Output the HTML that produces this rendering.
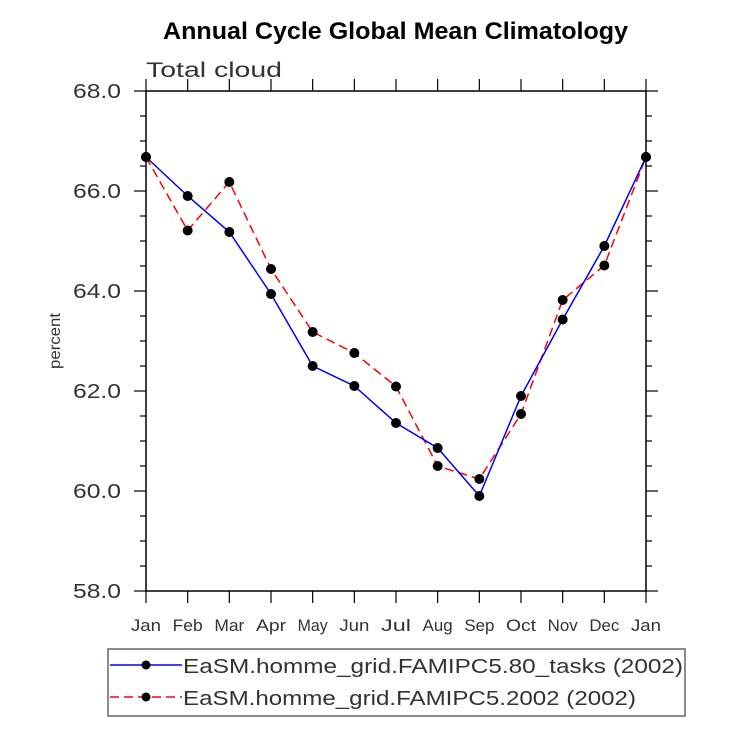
<!DOCTYPE html>
<html><head><meta charset="utf-8"><style>
body{margin:0;background:#fff;}
svg{display:block;font-family:"Liberation Sans",sans-serif;}
</style></head><body>
<svg id="chart" width="733" height="737">
<text x="163" y="39" textLength="465" lengthAdjust="spacingAndGlyphs" font-size="24" font-weight="bold">Annual Cycle Global Mean Climatology</text>
<text x="146" y="77" textLength="136" lengthAdjust="spacingAndGlyphs" font-size="21" fill="#333">Total cloud</text>
<text transform="translate(60,341) rotate(-90)" text-anchor="middle" textLength="56" lengthAdjust="spacingAndGlyphs" font-size="16" fill="#333">percent</text>
<g id="axes"></g>
<g id="series"></g>
<g id="legend">
<rect x="108" y="649" width="577" height="67" fill="none" stroke="#666" stroke-width="1.5"/>
<g>
<line x1="110" y1="665" x2="182" y2="665" stroke="#0000ff" stroke-width="1.5"/>
<circle cx="146" cy="665" r="4.5" fill="#000"/>
<text x="183" y="673" textLength="500" lengthAdjust="spacingAndGlyphs" font-size="20" fill="#333">EaSM.homme_grid.FAMIPC5.80_tasks (2002)</text>
</g>
<g>
<line x1="110" y1="697" x2="182" y2="697" stroke="#ff0000" stroke-width="1.5" stroke-dasharray="9,5"/>
<circle cx="146" cy="697" r="4.5" fill="#000"/>
<text x="183" y="705" textLength="453" lengthAdjust="spacingAndGlyphs" font-size="20" fill="#333">EaSM.homme_grid.FAMIPC5.2002 (2002)</text>
</g>
</g>
</svg>
<script>
const months=["Jan","Feb","Mar","Apr","May","Jun","Jul","Aug","Sep","Oct","Nov","Dec","Jan"];
const blueValues=[66.68,65.9,65.18,63.94,62.5,62.1,61.36,60.86,59.9,61.9,63.43,64.9,66.68];
const redValues=[66.68,65.21,66.18,64.44,63.18,62.76,62.09,60.5,60.24,61.54,63.82,64.51,66.68];
const yTicks=[58,60,62,64,66,68];
const NS="http://www.w3.org/2000/svg";
const X0=146,X1=646,Y0=591,Y1=91,YMIN=58,YMAX=68;
function xs(i){return X0+(X1-X0)*i/(months.length-1);}
function ys(v){return Y0-(v-YMIN)/(YMAX-YMIN)*(Y0-Y1);}
function mk(tag,attrs,parent){const e=document.createElementNS(NS,tag);for(const k in attrs)e.setAttribute(k,attrs[k]);parent.appendChild(e);return e;}
const axes=document.getElementById('axes');
const frame=mk('rect',{x:X0,y:Y1,width:X1-X0,height:Y0-Y1,fill:'none',stroke:'#000','stroke-width':1.5},axes);


for(let v=YMIN;v<=YMAX+1e-9;v+=0.5){
  const major=Math.abs(v-Math.round(v/2)*2)<1e-6;const len=major?12:6;const y=ys(v);
  const t1=mk('line',{x1:X0-len,y1:y,x2:X0,y2:y,stroke:'#000','stroke-width':1.2},axes);
  
  
  const t2=mk('line',{x1:X1,y1:y,x2:X1+len,y2:y,stroke:'#000','stroke-width':1.2},axes);
  
  
}
yTicks.forEach(v=>{
  const t=mk('text',{x:73,y:ys(v)+7,textLength:48,lengthAdjust:'spacingAndGlyphs','font-size':20,fill:'#333'},axes);
  t.textContent=v.toFixed(1);
  
  
});
months.forEach((m,i)=>{
  const x=xs(i);
  const b=mk('line',{x1:x,y1:Y0,x2:x,y2:Y0+12,stroke:'#000','stroke-width':1.2},axes);
  
  
  const t=mk('line',{x1:x,y1:Y1-12,x2:x,y2:Y1,stroke:'#000','stroke-width':1.2},axes);
  
  
  const l=mk('text',{x:x-15,y:631,textLength:30,lengthAdjust:'spacingAndGlyphs','font-size':17,fill:'#333'},axes);
  l.textContent=m;
  
  
});
const series=document.getElementById('series');
function draw(vals,color,dash,name){
  const g=mk('g',{},series);
  
  
  const pts=vals.map((v,i)=>xs(i)+','+ys(v)).join(' ');
  const pl=mk('polyline',{points:pts,fill:'none',stroke:color,'stroke-width':1.5},g);
  if(dash)pl.setAttribute('stroke-dasharray',dash);
  
  
  vals.forEach((v,i)=>{
    const c=mk('circle',{cx:xs(i),cy:ys(v),r:5,fill:'#000'},g);
    
    
  });
}
draw(redValues,'#ff0000','9,5','series-red');
draw(blueValues,'#0000ff',null,'series-blue');
</script>
</body></html>
